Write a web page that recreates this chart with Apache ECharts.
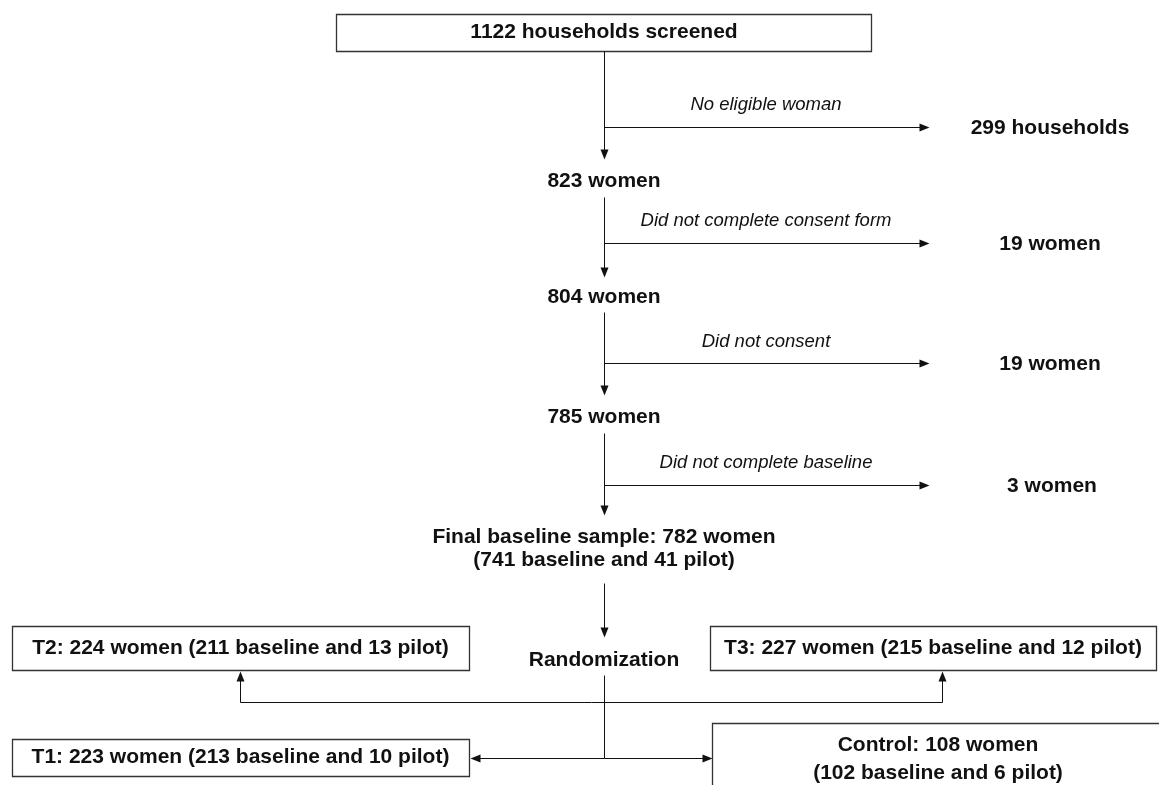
<!DOCTYPE html>
<html><head><meta charset="utf-8">
<script src="https://cdn.jsdelivr.net/npm/echarts@6/dist/echarts.min.js"></script>
<style>html,body{margin:0;padding:0;background:#fff}#c{width:1159px;height:785px}</style>
</head><body><div id="c"></div>
<script>
// ---- data ----
const screenedHouseholds = 1122;
const stageCounts = [823, 804, 785, 782];
const exclusionReasons = ['No eligible woman', 'Did not complete consent form', 'Did not consent', 'Did not complete baseline'];
const exclusionCounts = [299, 19, 19, 3];
const exclusionUnits = ['households', 'women', 'women', 'women'];
const finalBaseline = 741;
const finalPilot = 41;
const armNames = ['T2', 'T3', 'T1', 'Control'];
const armTotals = [224, 227, 223, 108];
const armBaseline = [211, 215, 213, 102];
const armPilot = [13, 12, 10, 6];

// ---- layout (diagram units = axis units) ----
const CX = 604;
const stageY = [181, 297, 417, 537];
const stageLineStart = [51, 197, 312, 433];
const stageArrowTip = [159, 277, 395, 515];
const branchY = [127, 243, 363, 485];
const branchEndX = 929;
const reasonY = [105, 221, 342, 463];
const reasonX = 766;
const exclPos = [[1050, 128], [1050, 244], [1050, 364], [1052, 486]];
const armBoxes = [[12, 626, 469, 670], [710, 626, 1156, 670], [12, 739, 469, 776], [712, 723, 1175, 810]];

const BOLD = "bold 21px 'Liberation Sans', Arial, sans-serif";
const ITAL = "italic 18.5px 'Liberation Sans', Arial, sans-serif";

const texts = [];
const boxes = [];
const segs = [];

// top box
boxes.push([336, 14, 871, 51]);
texts.push({ x: CX, y: 32, t: screenedHouseholds + ' households screened', f: BOLD });

for (let i = 0; i < 4; i++) {
  segs.push([CX, stageLineStart[i], CX, stageArrowTip[i], 1]);
  segs.push([CX, branchY[i], branchEndX, branchY[i], 1]);
  texts.push({ x: reasonX, y: reasonY[i], t: exclusionReasons[i], f: ITAL });
  texts.push({ x: exclPos[i][0], y: exclPos[i][1], t: exclusionCounts[i] + ' ' + exclusionUnits[i], f: BOLD });
  if (i < 3) texts.push({ x: CX, y: stageY[i], t: stageCounts[i] + ' women', f: BOLD });
}
texts.push({ x: CX, y: stageY[3], t: 'Final baseline sample: ' + stageCounts[3] + ' women', f: BOLD });
texts.push({ x: CX, y: 560, t: '(' + finalBaseline + ' baseline and ' + finalPilot + ' pilot)', f: BOLD });

segs.push([CX, 583, CX, 637, 1]);
texts.push({ x: CX, y: 660, t: 'Randomization', f: BOLD });
segs.push([CX, 675, CX, 758, 0]);
segs.push([240, 702, 942, 702, 0]);
segs.push([240, 702, 240, 671, 1]);
segs.push([942, 702, 942, 671, 1]);
segs.push([CX, 758, 470, 758, 1]);
segs.push([CX, 758, 712, 758, 1]);

for (let k = 0; k < 4; k++) {
  const b = armBoxes[k];
  boxes.push(b);
  if (k < 3) {
    texts.push({ x: (b[0] + b[2]) / 2, y: (b[1] + b[3]) / 2, t: armNames[k] + ': ' + armTotals[k] + ' women (' + armBaseline[k] + ' baseline and ' + armPilot[k] + ' pilot)', f: BOLD });
  } else {
    texts.push({ x: 938, y: 745, t: armNames[k] + ': ' + armTotals[k] + ' women', f: BOLD });
    texts.push({ x: 938, y: 773, t: '(' + armBaseline[k] + ' baseline and ' + armPilot[k] + ' pilot)', f: BOLD });
  }
}

const chart = echarts.init(document.getElementById('c'), null, { renderer: 'canvas' });
chart.setOption({
  animation: false,
  backgroundColor: '#fff',
  grid: { left: 0, right: 0, top: 0, bottom: 0 },
  xAxis: { type: 'value', min: 0, max: 1159, show: false },
  yAxis: { type: 'value', min: 0, max: 785, inverse: true, show: false },
  series: [
    {
      type: 'custom', name: 'boxes', clip: false, silent: true,
      data: boxes,
      encode: { x: [0, 2], y: [1, 3] },
      renderItem: function (params, api) {
        const p1 = api.coord([api.value(0), api.value(1)]);
        const p2 = api.coord([api.value(2), api.value(3)]);
        return {
          type: 'rect',
          shape: { x: Math.round(p1[0]) + 0.5, y: Math.round(p1[1]) + 0.5, width: Math.round(p2[0] - p1[0]), height: Math.round(p2[1] - p1[1]) },
          style: { fill: '#fff', stroke: '#333', lineWidth: 1.3 }
        };
      }
    },
    {
      type: 'custom', name: 'connectors', clip: false, silent: true,
      data: segs,
      encode: { x: [0, 2], y: [1, 3] },
      renderItem: function (params, api) {
        const a = api.coord([api.value(0), api.value(1)]);
        const b = api.coord([api.value(2), api.value(3)]);
        const arrow = api.value(4) === 1;
        const dx = b[0] - a[0], dy = b[1] - a[1];
        const len = Math.sqrt(dx * dx + dy * dy) || 1;
        const ux = dx / len, uy = dy / len;
        const L = 10, W = 4;
        const end = arrow ? [b[0] - ux * L * 0.6, b[1] - uy * L * 0.6] : b;
        const children = [{
          type: 'line',
          shape: { x1: Math.round(a[0]) + 0.5, y1: Math.round(a[1]) + 0.5, x2: Math.round(end[0]) + 0.5, y2: Math.round(end[1]) + 0.5 },
          style: { stroke: '#111', lineWidth: 1 }
        }];
        if (arrow) {
          const tx = Math.round(b[0]) + 0.5, ty = Math.round(b[1]) + 0.5;
          const bx = tx - ux * L, by = ty - uy * L;
          children.push({
            type: 'polygon',
            shape: { points: [[tx, ty], [bx - uy * W, by + ux * W], [bx + uy * W, by - ux * W]] },
            style: { fill: '#111' }
          });
        }
        return { type: 'group', children: children };
      }
    },
    {
      type: 'custom', name: 'texts', clip: false, silent: true,
      data: texts.map(function (t) { return [t.x, t.y]; }),
      encode: { x: 0, y: 1 },
      renderItem: function (params, api) {
        const t = texts[params.dataIndex];
        const p = api.coord([api.value(0), api.value(1)]);
        return {
          type: 'text', x: p[0], y: p[1],
          style: { text: t.t, font: t.f, fill: '#111', align: 'center', verticalAlign: 'middle' }
        };
      }
    }
  ]
});
</script>
</body></html>
